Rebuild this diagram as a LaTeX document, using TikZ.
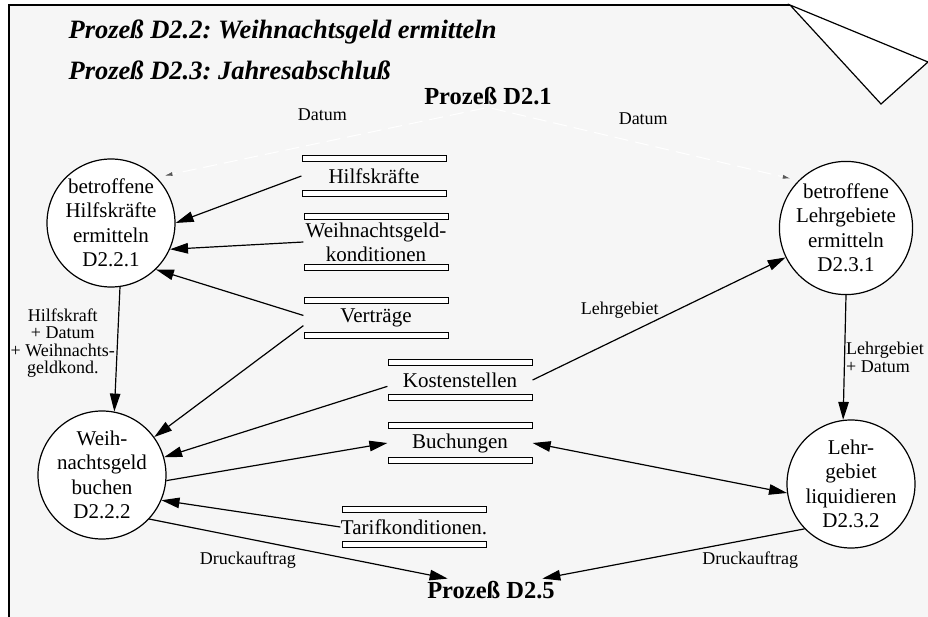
\documentclass[tikz,border=0pt]{standalone}
\usepackage{fontspec}
\setmainfont{Liberation Serif}
\usetikzlibrary{arrows.meta,automata}
\definecolor{sheet}{HTML}{F6F6F6}
\frenchspacing

\begin{document}
\begin{tikzpicture}[x=1pt,y=-1pt,>={Triangle[length=18pt,width=10.5pt]},
			line width=1.2pt,
			every state/.style={minimum size=128pt,inner sep=0pt,fill=white,align=center,
				font=\fontsize{21}{24.5}\selectfont},
			store/.style={minimum width=144pt,minimum height=28pt,inner xsep=0pt,inner ysep=3pt,
				align=center,font=\fontsize{21}{24}\selectfont,
				label={[bar]above:{}},label={[bar]below:{}}},
			bar/.style={draw,fill=white,line width=1pt,minimum width=144pt,minimum height=6pt,
				inner sep=0pt,outer sep=0pt},
			proc/.style={font=\fontsize{24.5}{28}\selectfont\bfseries,inner sep=2pt},
			headline/.style={anchor=west,inner sep=0pt,font=\fontsize{26.5}{30}\selectfont\bfseries\itshape},
			flowlabel/.style={text=black,font=\fontsize{18}{17.5}\selectfont,inner sep=2pt},
			flow/.style={->},
			datumflow/.style={->,>={Latex[length=8pt,width=4pt,color=gray!70!black]},white,
				dash pattern=on 14pt off 7pt,line width=1pt,shorten >=8pt,shorten <=4pt}]
			
			\useasboundingbox (0,0) rectangle (928,617);
			
			% sheet with folded corner
			\fill[sheet] (9,5) -- (790,5) -- (928,62) -- (928,617) -- (9,617) -- cycle;
			\draw (9,617) -- (9,5) -- (790,5);
			\filldraw[fill=white] (790,5) -- (928,62) -- (881,104) -- cycle;
			
			\node[headline] (t22) at (68,32) {Prozeß D2.2: Weihnachtsgeld ermitteln};
			\node[headline] (t23) at (68,70) {Prozeß D2.3: Jahresabschluß};
			\node[proc] (p21) at (488,96) {Prozeß D2.1};
			\node[proc] (p25) at (491,590) {Prozeß D2.5};
			
			\node[state] (d221) at (111,223) {betroffene\\Hilfskräfte\\ermitteln\\D2.2.1};
			\node[state] (d222) at (102,475) {Weih-\\nachtsgeld\\buchen\\D2.2.2};
			\node[state] (d231) at (846,228) {betroffene\\Lehrgebiete\\ermitteln\\D2.3.1};
			\node[state] (d232) at (851,484) {Lehr-\\gebiet\\liquidieren\\D2.3.2};
			
			\node[store] (hk) at (374,176) {Hilfskräfte};
			\node[store] (wk) at (376,242) {Weihnachtsgeld-\\konditionen};
			\node[store] (vt) at (376,318) {Verträge};
			\node[store] (ks) at (460,380) {Kostenstellen};
			\node[store] (bu) at (460,443) {Buchungen};
			\node[store] (tk) at (414,527) {Tarifkonditionen.};
			
			\draw[datumflow] (p21.south) -- node[flowlabel,above=19pt] (dt1) {Datum} (d221.45);
			\draw[datumflow] (p21.south) -- node[flowlabel,above=17pt] (dt2) {Datum} (d231.135);
			
			\path[flow]
			(hk.west) edge (d221.east)
			(wk.west) edge (d221.-24)
			(vt.178) edge (d221.-46)
			(vt.186) edge (d222.36)
			(ks.185) edge (d222.16)
			(d222.-5) edge (bu.west)
			(tk.west) edge (d222.-23)
			(d221.-82) edge node[flowlabel,left,pos=.45,align=center] (l1)
				{Hilfskraft\\+ Datum\\+ Weihnachts-\\geldkond.} (d222.79)
			(d222.-43) edge node[flowlabel,below left,pos=.5] (l2) {Druckauftrag}
				([xshift=23pt]p25.north west)
			(ks.east) edge node[flowlabel,above left,pos=.5,inner sep=0pt] (l3) {Lehrgebiet} (d231.206)
			(d231.south) edge node[flowlabel,right,pos=.5,align=left,inner sep=1pt] (l4)
				{Lehrgebiet\\+ Datum} (d232.97)
			(bu.east) edge[<->] (d232.188)
			(d232.224) edge node[flowlabel,below right,pos=.4] (l5) {Druckauftrag}
				([xshift=-15pt]p25.north east);
\end{tikzpicture}
\end{document}
